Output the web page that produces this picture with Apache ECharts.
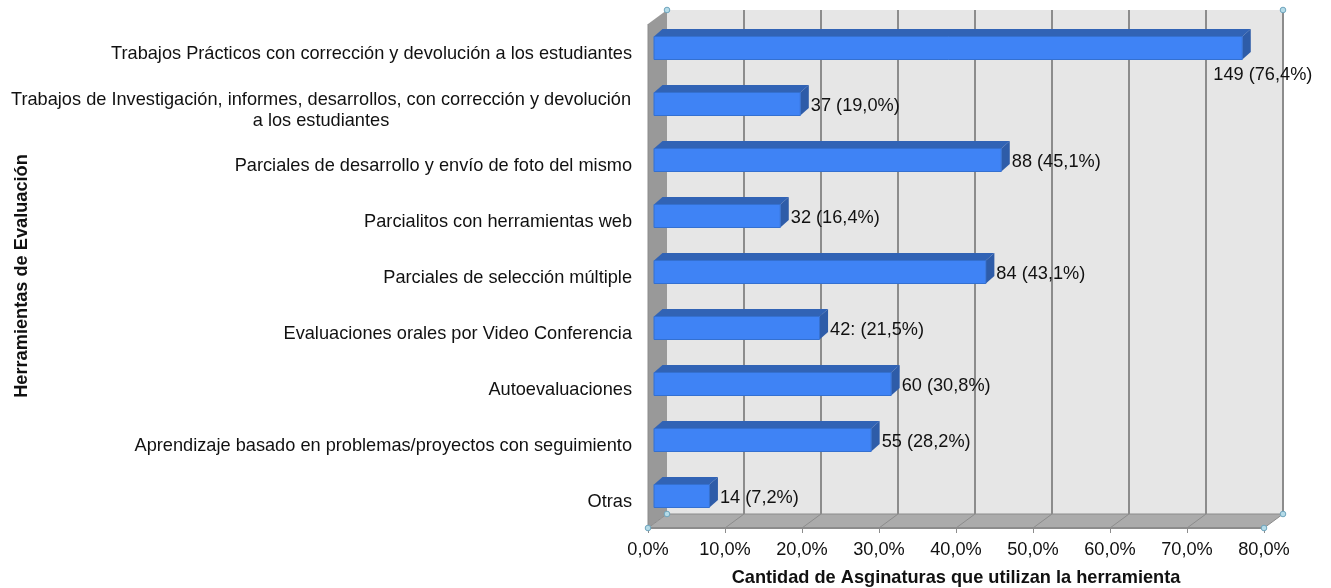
<!DOCTYPE html>
<html><head><meta charset="utf-8">
<style>html,body{margin:0;padding:0;background:#fff}#c{width:1331px;height:588px}</style>
<script src="https://cdn.jsdelivr.net/npm/echarts@6/dist/echarts.min.js"></script>
</head><body><div id="c"></div>
<script>
const categories = [
  "Trabajos Prácticos con corrección y devolución a los estudiantes",
  "Trabajos de Investigación, informes, desarrollos, con corrección y devolución\na los estudiantes",
  "Parciales de desarrollo y envío de foto del mismo",
  "Parcialitos con herramientas web",
  "Parciales de selección múltiple",
  "Evaluaciones orales por Video Conferencia",
  "Autoevaluaciones",
  "Aprendizaje basado en problemas/proyectos con seguimiento",
  "Otras"
];
const percentages = [76.4, 19.0, 45.1, 16.4, 43.1, 21.5, 30.8, 28.2, 7.2];
const valueLabels = ["149 (76,4%)","37 (19,0%)","88 (45,1%)","32 (16,4%)","84 (43,1%)","42: (21,5%)","60 (30,8%)","55 (28,2%)","14 (7,2%)"];
const xTicks = [0,10,20,30,40,50,60,70,80];
const xTitle = "Cantidad de Asginaturas que utilizan la herramienta";
const yTitle = "Herramientas de Evaluación";

const FONT = '"Liberation Sans", Arial, sans-serif';
const FS = 18.2;
const INK = '#111111';
const DX = 19, DY = 14;       // depth of the box
const BX = 6, BY = 4;         // offset of the bars into the box
const BDX = 8.5, BDY = 7.5;   // depth of each bar
const poly = (points, fill, stroke) => ({type:'polygon', shape:{points},
  style:{fill, stroke: stroke||null, lineWidth: stroke?1:0}});

function renderFrame(params, api) {
  const x0 = api.coord([0, 0])[0], x1 = api.coord([80, 0])[0];
  const r = params.coordSys;
  const top = r.y, bot = r.y + r.height;
  const ch = [];
  ch.push(poly([[x0+DX,top-DY],[x1+DX,top-DY],[x1+DX,bot-DY],[x0+DX,bot-DY]], '#e6e6e6'));
  ch.push(poly([[x0,top],[x0+DX,top-DY],[x0+DX,bot-DY],[x0,bot]], '#999999'));
  ch.push(poly([[x0,bot],[x0+DX,bot-DY],[x1+DX,bot-DY],[x1,bot]], '#ababab'));
  xTicks.forEach(t => {
    const x = api.coord([t, 0])[0];
    if (t > 0) ch.push({type:'line', shape:{x1:x+DX,y1:top-DY,x2:x+DX,y2:bot-DY}, style:{stroke:'#8c8c8c',lineWidth:2}});
    ch.push({type:'line', shape:{x1:x,y1:bot,x2:x+DX,y2:bot-DY}, style:{stroke:'#8c8c8c',lineWidth:1}});
  });
  ch.push({type:'line', shape:{x1:x0,y1:top,x2:x0,y2:bot}, style:{stroke:'#8c8c8c',lineWidth:1}});
  ch.push({type:'line', shape:{x1:x0,y1:bot,x2:x1,y2:bot}, style:{stroke:'#8c8c8c',lineWidth:2}});
  ch.push({type:'line', shape:{x1:x0+DX,y1:bot-DY,x2:x1+DX,y2:bot-DY}, style:{stroke:'#8c8c8c',lineWidth:1}});
  return {type:'group', children:ch};
}
function renderHandles(params, api) {
  const x0 = api.coord([0, 0])[0], x1 = api.coord([80, 0])[0];
  const r = params.coordSys;
  const top = r.y, bot = r.y + r.height;
  const pts = [[x0+DX,top-DY],[x1+DX,top-DY],[x0+DX,bot-DY],[x1+DX,bot-DY],[x0,bot],[x1,bot]];
  return {type:'group', children: pts.map(p => ({type:'circle', shape:{cx:p[0],cy:p[1],r:2.8},
    style:{fill:'#b5dbe8', stroke:'#6fa5bd', lineWidth:1}}))};
}
function renderBar(params, api) {
  const v = api.value(0), idx = api.value(1);
  const c0 = api.coord([0, idx]), c1 = api.coord([v, idx]);
  const h = 23;
  const l = c0[0]+BX, rr = c1[0]+BX, t = c0[1]-BY-h/2, b = t+h;
  const label = valueLabels[idx];
  const first = idx === 0;
  return {type:'group', children:[
    poly([[l,t],[l+BDX,t-BDY],[rr+BDX,t-BDY],[rr,t]], '#3163b5'),
    poly([[rr,t],[rr+BDX,t-BDY],[rr+BDX,b-BDY],[rr,b]], '#2e5ca8'),
    {type:'rect', shape:{x:l,y:t,width:rr-l,height:h}, style:{fill:'#3f83f5', stroke:'#3470d0', lineWidth:1}},
    {type:'text', style:{text:label, font:FS+'px '+FONT, fill:INK,
      x: first ? rr-29 : rr+BDX+2, y: first ? b+15.5 : t+(h/2)+2, verticalAlign:'middle', align:'left'}}
  ]};
}

const chart = echarts.init(document.getElementById('c'), null, {renderer:'canvas'});
chart.setOption({
  animation:false,
  backgroundColor:'#fff',
  textStyle:{fontFamily:FONT},
  grid:{left:648, top:24, width:616, height:504, containLabel:false, outerBoundsMode:'none'},
  xAxis:{type:'value', min:0, max:80, interval:10,
    axisLine:{show:false}, splitLine:{show:false},
    axisTick:{show:true, length:5, lineStyle:{color:'#8c8c8c'}},
    axisLabel:{margin:13, color:INK, fontSize:FS, fontFamily:FONT,
      formatter:v => v.toFixed(1).replace('.',',')+'%'},
    name:xTitle, nameLocation:'middle', nameGap:41,
    nameTextStyle:{fontWeight:'bold', fontSize:FS, color:INK, fontFamily:FONT}
  },
  yAxis:{type:'category', inverse:true, data:categories,
    axisLine:{show:false}, axisTick:{show:false},
    axisLabel:{margin:16, color:INK, fontSize:FS, fontFamily:FONT, lineHeight:21, padding:[4,0,0,0],
      formatter:s => s.includes('\n') ? s.split('\n').map(x=>'{wide|'+x+'}').join('\n') : s,
      rich:{wide:{width:622, align:'center', fontSize:FS, lineHeight:21, fontFamily:FONT, color:INK}}},
    name:yTitle, nameLocation:'middle', nameGap:617, nameMoveOverlap:false,
    nameTextStyle:{fontWeight:'bold', fontSize:FS, color:INK, fontFamily:FONT}
  },
  series:[
    {type:'custom', silent:true, z:1, renderItem:renderFrame, data:[[0,0]], encode:{x:0,y:1}, clip:false},
    {type:'custom', silent:true, z:2, renderItem:renderBar, clip:false,
      data:percentages.map((v,i)=>[v,i]), encode:{x:0,y:1}},
    {type:'custom', silent:true, z:3, renderItem:renderHandles, data:[[0,0]], encode:{x:0,y:1}, clip:false}
  ]
});
</script></body></html>
